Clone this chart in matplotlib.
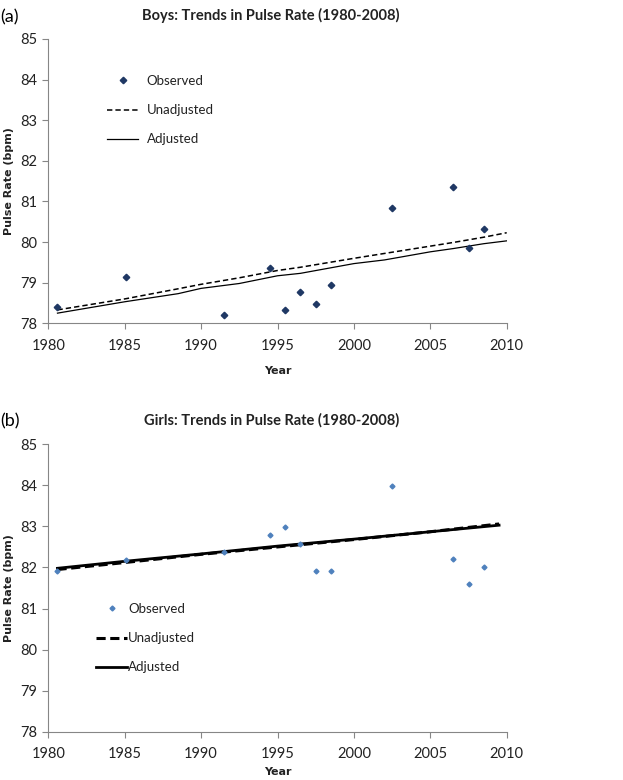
import matplotlib
matplotlib.use("Agg")
import matplotlib.pyplot as plt
from matplotlib.lines import Line2D

# ---- Data ----
boys_obs_years = [1980.6, 1985.1, 1991.5, 1994.5, 1995.5, 1996.5, 1997.5, 1998.5, 2002.5, 2006.5, 2007.5, 2008.5]
boys_obs_vals = [78.40, 79.15, 78.20, 79.35, 78.33, 78.77, 78.47, 78.94, 80.84, 81.35, 79.86, 80.33]
boys_line_years = [1980.6, 1985, 1988.5, 1990, 1992.5, 1995, 1996.5, 2000, 2002, 2005, 2006.5, 2008.5, 2010]
boys_unadj_vals = [78.33, 78.60, 78.85, 78.96, 79.12, 79.30, 79.38, 79.60, 79.72, 79.90, 79.99, 80.12, 80.23]
boys_adj_vals = [78.25, 78.53, 78.73, 78.86, 78.98, 79.17, 79.23, 79.47, 79.56, 79.76, 79.84, 79.96, 80.03]

girls_obs_years = [1980.55, 1985.1, 1991.5, 1994.5, 1995.5, 1996.5, 1997.5, 1998.5, 2002.5, 2006.5, 2007.5, 2008.5]
girls_obs_vals = [81.92, 82.17, 82.37, 82.78, 82.98, 82.57, 81.92, 81.92, 83.99, 82.20, 81.60, 82.00]
girls_line_years = [1980.6, 1985, 1990, 1995, 2000, 2005, 2009.5]
girls_unadj_vals = [81.95, 82.12, 82.32, 82.50, 82.68, 82.87, 83.06]
girls_adj_vals = [81.98, 82.15, 82.33, 82.52, 82.69, 82.87, 83.03]

x_ticks = [1980, 1985, 1990, 1995, 2000, 2005, 2010]
y_ticks = [78, 79, 80, 81, 82, 83, 84, 85]
legend_labels = ["Observed", "Unadjusted", "Adjusted"]

W, H = 623, 780
fig = plt.figure(figsize=(W / 100, H / 100), dpi=100)

spine_col = "#868686"
txt_col = "#222222"
font = "Lato"


def px_axes(left, right, top, bottom):
    return [left / W, 1 - bottom / H, (right - left) / W, (bottom - top) / H]


def style_axes(ax, top, bottom, xlabel_y):
    ax.set_xlim(1980, 2010)
    ax.set_ylim(78, 85)
    ax.set_xticks(x_ticks)
    ax.set_yticks(y_ticks)
    for s in ["top", "right"]:
        ax.spines[s].set_visible(False)
    for s in ["left", "bottom"]:
        ax.spines[s].set_color(spine_col)
        ax.spines[s].set_linewidth(0.8)
    ax.tick_params(axis="both", colors=spine_col, length=4, width=0.8, labelsize=10.5,
                   labelcolor=txt_col, direction="out")
    ax.tick_params(axis="x", pad=7)
    ax.tick_params(axis="y", pad=4)
    for lab in ax.get_xticklabels() + ax.get_yticklabels():
        lab.set_fontfamily(font)
    ax.set_ylabel("Pulse Rate (bpm)", fontsize=8, fontweight="bold", family="DejaVu Sans", color=txt_col)
    ax.set_xlabel("Year", fontsize=8, fontweight="bold", family="DejaVu Sans", color=txt_col)
    hpx = bottom - top
    ax.yaxis.set_label_coords((9 - 48.3) / 458.4, 0.5)
    ax.xaxis.set_label_coords(0.5, (bottom - xlabel_y) / hpx)
    ax.xaxis.label.set_va("center")
    ax.yaxis.label.set_va("center")


# ---- Panel (a) ----
a_top, a_bot = 39, 323.3
ax1 = fig.add_axes(px_axes(48.3, 506.7, a_top, a_bot))
style_axes(ax1, a_top, a_bot, 371)
ax1.plot(boys_line_years, boys_unadj_vals, color="black", lw=1.1, ls=(0, (3.5, 2)))
ax1.plot(boys_line_years, boys_adj_vals, color="black", lw=0.9, ls="-")
ax1.plot(boys_obs_years, boys_obs_vals, ls="none", marker="D", ms=3.3, color="#1F3864")

handles1 = [
    Line2D([], [], ls="none", marker="D", ms=3.3, color="#1F3864"),
    Line2D([], [], color="black", lw=1.1, ls=(0, (3.5, 2))),
    Line2D([], [], color="black", lw=0.9),
]
leg1 = ax1.legend(handles1, legend_labels, loc="upper left",
                  bbox_to_anchor=((107 - 48.3) / 458.4, (a_bot - 75) / (a_bot - a_top)),
                  frameon=False, handlelength=2.35, borderpad=0, borderaxespad=0,
                  handletextpad=0.65, labelspacing=1.3, prop={"family": font, "size": 9.5})
for t in leg1.get_texts():
    t.set_color(txt_col)

fig.text(0.0, 1 - 17 / H, "(a)", fontsize=13, family=font, va="center", ha="left")
fig.text(271 / W, 1 - 15 / H, "Boys: Trends in Pulse Rate (1980-2008)", fontsize=10.5,
         fontweight="bold", family=font, va="center", ha="center", color=txt_col)

# ---- Panel (b) ----
b_top, b_bot = 444.3, 731.7
ax2 = fig.add_axes(px_axes(48.3, 506.7, b_top, b_bot))
style_axes(ax2, b_top, b_bot, 772)
ax2.plot(girls_line_years, girls_unadj_vals, color="black", lw=2.2, ls=(0, (3, 1.5)))
ax2.plot(girls_line_years, girls_adj_vals, color="black", lw=2.0, ls="-")
ax2.plot(girls_obs_years, girls_obs_vals, ls="none", marker="D", ms=2.5, color="#4F81BD")

handles2 = [
    Line2D([], [], ls="none", marker="D", ms=2.5, color="#4F81BD"),
    Line2D([], [], color="black", lw=2.2, ls=(0, (3, 1.5))),
    Line2D([], [], color="black", lw=2.0),
]
leg2 = ax2.legend(handles2, legend_labels, loc="upper left",
                  bbox_to_anchor=((96 - 48.3) / 458.4, (b_bot - 603) / (b_bot - b_top)),
                  frameon=False, handlelength=2.35, borderpad=0, borderaxespad=0,
                  handletextpad=0.1, labelspacing=1.3, prop={"family": font, "size": 9.5})
for t in leg2.get_texts():
    t.set_color(txt_col)

fig.text(0.0, 1 - 421 / H, "(b)", fontsize=13, family=font, va="center", ha="left")
fig.text(272 / W, 1 - 420 / H, "Girls: Trends in Pulse Rate (1980-2008)", fontsize=10.5,
         fontweight="bold", family=font, va="center", ha="center", color=txt_col)

fig.savefig("out.png", dpi=100)
